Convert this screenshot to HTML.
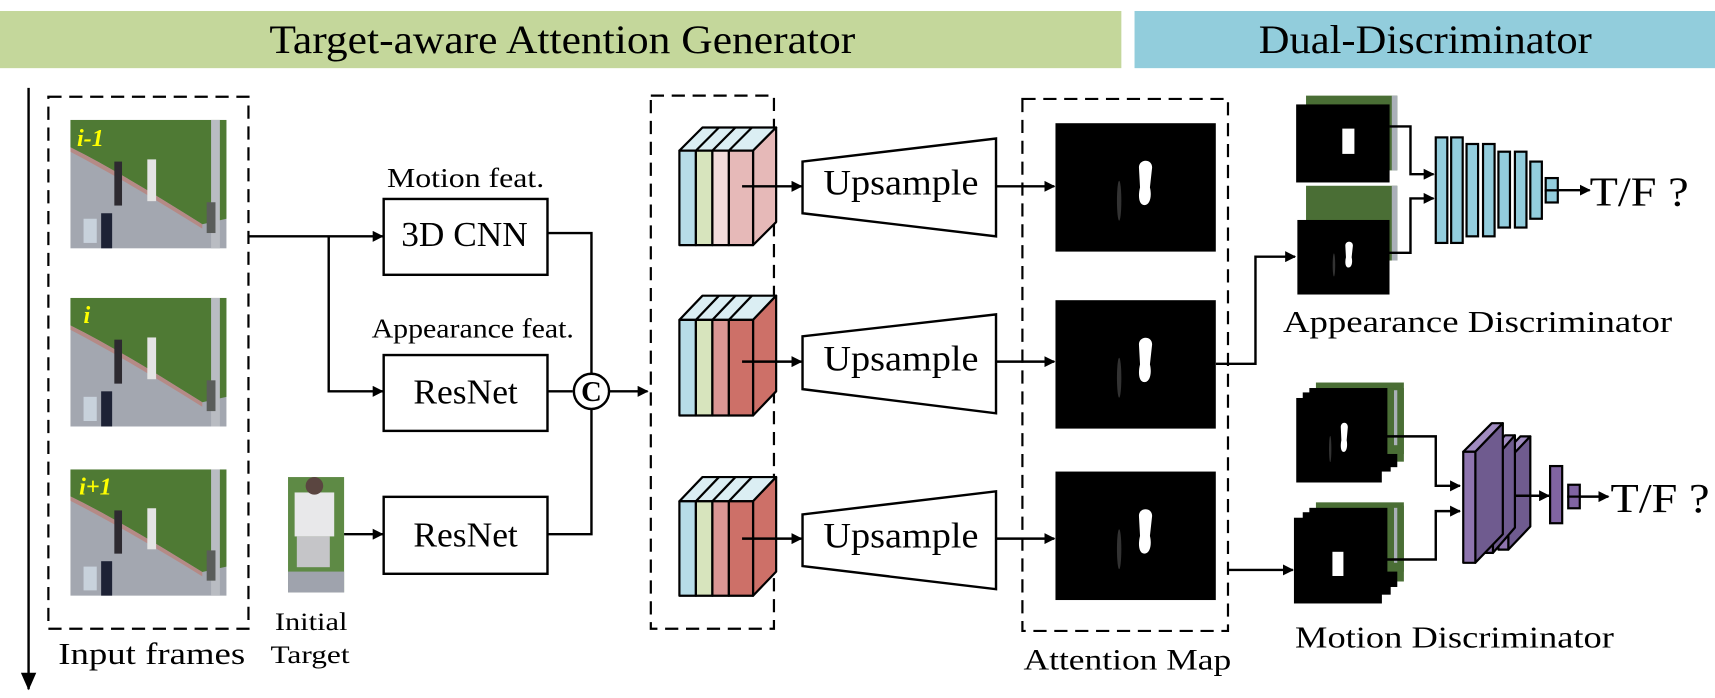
<!DOCTYPE html>
<html><head><meta charset="utf-8"><style>
html,body{margin:0;padding:0;background:#fff;}
svg{display:block;}
text{font-family:"Liberation Serif",serif;fill:#000;}
</style></head><body>
<svg width="1715" height="698" viewBox="0 0 1560 635" preserveAspectRatio="none" xmlns="http://www.w3.org/2000/svg">
<defs>
<marker id="ah" markerWidth="10" markerHeight="10" refX="9" refY="5" orient="auto" markerUnits="userSpaceOnUse">
<path d="M0,0 L10,5 L0,10 Z" fill="#000"/></marker>
<marker id="ah2" markerWidth="16" markerHeight="14" refX="15" refY="7" orient="auto" markerUnits="userSpaceOnUse">
<path d="M0,0 L16,7 L0,14 Z" fill="#000"/></marker>
<symbol id="scene" viewBox="0 0 142 117" preserveAspectRatio="none">
<rect width="142" height="117" fill="#a3a7b0"/>
<path d="M0,0 L142,0 L142,90 L120,95 C80,70 40,45 0,25 Z" fill="#4f7a34"/>
<path d="M0,25 C40,45 80,70 120,95 L120,99 C80,74 40,50 0,29 Z" fill="#b58a86"/>
<rect x="128" y="0" width="8" height="117" fill="#b9bcc2"/>
<rect x="124" y="75" width="8" height="28" fill="#5a5d5a"/>
<rect x="40" y="38" width="7" height="40" fill="#2d2a30"/>
<rect x="70" y="36" width="8" height="38" fill="#e4e4e4"/>
<rect x="28" y="85" width="10" height="32" fill="#1d2235"/>
<rect x="12" y="90" width="12" height="22" fill="#c8d2dc"/>
</symbol>
<symbol id="att" viewBox="0 0 146 116" preserveAspectRatio="none">
<rect width="146" height="116" fill="#000"/>
<ellipse cx="58" cy="70" rx="2" ry="18" fill="#333"/>
<path d="M76,40 C76,32 88,32 88,40 L86,58 C88,66 86,74 81,74 C76,74 75,66 77,58 Z" fill="#fff"/>
</symbol>
</defs>

<rect x="0" y="10" width="1020" height="52" fill="#c4d79b"/>
<rect x="1032" y="10" width="528" height="52" fill="#92cddc"/>
<text x="245" y="48" font-size="37" textLength="533" lengthAdjust="spacingAndGlyphs">Target-aware Attention Generator</text>
<text x="1145" y="48" font-size="37" textLength="303" lengthAdjust="spacingAndGlyphs">Dual-Discriminator</text>

<line x1="26" y1="80" x2="26" y2="627" stroke="#000" stroke-width="2.2" marker-end="url(#ah2)"/>

<rect x="44" y="88" width="182" height="484" fill="none" stroke="#000" stroke-width="2" stroke-dasharray="12,7"/>
<use href="#scene" x="64" y="109" width="142" height="117"/>
<use href="#scene" x="64" y="271" width="142" height="117"/>
<use href="#scene" x="64" y="427" width="142" height="115"/>
<text x="70" y="133" font-size="22" font-style="italic" font-weight="bold" style="fill:#ffff00">i-1</text>
<text x="76" y="294" font-size="22" font-style="italic" font-weight="bold" style="fill:#ffff00">i</text>
<text x="72" y="450" font-size="22" font-style="italic" font-weight="bold" style="fill:#ffff00">i+1</text>
<text x="53" y="604" font-size="28" textLength="170" lengthAdjust="spacingAndGlyphs">Input frames</text>

<rect x="262" y="434" width="51" height="105" fill="#5e8a45"/>
<rect x="268" y="448" width="36" height="40" fill="#e8e8ea"/>
<rect x="270" y="488" width="30" height="28" fill="#c5c5c8"/>
<ellipse cx="286" cy="442" rx="8" ry="8" fill="#5a4540"/>
<rect x="262" y="520" width="51" height="19" fill="#9fa3ad"/>
<text x="250" y="573" font-size="23" textLength="66" lengthAdjust="spacingAndGlyphs">Initial</text>
<text x="246" y="603" font-size="23" textLength="72" lengthAdjust="spacingAndGlyphs">Target</text>

<g stroke="#000" stroke-width="2.2" fill="none">
<line x1="226" y1="215" x2="348" y2="215" marker-end="url(#ah)"/>
<polyline points="299,215 299,356 348,356" marker-end="url(#ah)"/>
<line x1="313" y1="486" x2="348" y2="486" marker-end="url(#ah)"/>
<polyline points="498,212 538,212 538,340"/>
<line x1="498" y1="356" x2="521" y2="356"/>
<polyline points="498,486 538,486 538,373"/>
<line x1="554" y1="356" x2="589" y2="356" marker-end="url(#ah)"/>
</g>
<g fill="#fff" stroke="#000" stroke-width="2.2">
<rect x="349" y="181" width="149" height="69"/>
<rect x="349" y="323" width="149" height="69"/>
<rect x="349" y="452" width="149" height="70"/>
<circle cx="538" cy="356" r="16"/>
</g>
<text x="538" y="365" font-size="26" font-weight="bold" text-anchor="middle">C</text>
<text x="352" y="170" font-size="25" textLength="143" lengthAdjust="spacingAndGlyphs">Motion feat.</text>
<text x="338" y="307" font-size="25" textLength="184" lengthAdjust="spacingAndGlyphs">Appearance feat.</text>
<text x="365" y="224" font-size="32" textLength="115" lengthAdjust="spacingAndGlyphs">3D CNN</text>
<text x="376" y="367" font-size="32" textLength="95" lengthAdjust="spacingAndGlyphs">ResNet</text>
<text x="376" y="497" font-size="32" textLength="95" lengthAdjust="spacingAndGlyphs">ResNet</text>

<rect x="592" y="87" width="112" height="485" fill="none" stroke="#000" stroke-width="2" stroke-dasharray="12,7"/>
<g stroke="#000" stroke-width="2" stroke-linejoin="round">
<g>
<polygon points="618,137 639,116 706,116 685,137" fill="#dbeef3"/>
<polygon points="685,137 706,116 706,202 685,223" fill="#e6b9b8"/>
<rect x="618" y="137" width="15" height="86" fill="#b7dde8"/>
<rect x="633" y="137" width="15" height="86" fill="#d7e4bd"/>
<rect x="648" y="137" width="15" height="86" fill="#f2dcdb"/>
<rect x="663" y="137" width="22" height="86" fill="#e6b9b8"/>
<line x1="633" y1="137" x2="654" y2="116"/><line x1="648" y1="137" x2="669" y2="116"/><line x1="663" y1="137" x2="684" y2="116"/>
</g>
<g>
<polygon points="618,291 639,269 706,269 685,291" fill="#dbeef3"/>
<polygon points="685,291 706,269 706,356 685,378" fill="#cd7068"/>
<rect x="618" y="291" width="15" height="87" fill="#b7dde8"/>
<rect x="633" y="291" width="15" height="87" fill="#d7e4bd"/>
<rect x="648" y="291" width="15" height="87" fill="#da9694"/>
<rect x="663" y="291" width="22" height="87" fill="#cd7068"/>
<line x1="633" y1="291" x2="654" y2="269"/><line x1="648" y1="291" x2="669" y2="269"/><line x1="663" y1="291" x2="684" y2="269"/>
</g>
<g>
<polygon points="618,456 639,434 706,434 685,456" fill="#dbeef3"/>
<polygon points="685,456 706,434 706,520 685,542" fill="#cd7068"/>
<rect x="618" y="456" width="15" height="86" fill="#b7dde8"/>
<rect x="633" y="456" width="15" height="86" fill="#d7e4bd"/>
<rect x="648" y="456" width="15" height="86" fill="#da9694"/>
<rect x="663" y="456" width="22" height="86" fill="#cd7068"/>
<line x1="633" y1="456" x2="654" y2="434"/><line x1="648" y1="456" x2="669" y2="434"/><line x1="663" y1="456" x2="684" y2="434"/>
</g>
</g>

<g stroke="#000" stroke-width="2.2" fill="none">
<line x1="675" y1="169.5" x2="729" y2="169.5" marker-end="url(#ah)"/>
<line x1="675" y1="329" x2="729" y2="329" marker-end="url(#ah)"/>
<line x1="675" y1="490" x2="729" y2="490" marker-end="url(#ah)"/>
<polygon points="730,147 906,126 906,215 730,194" fill="#fff"/>
<polygon points="730,306 906,286 906,376 730,354" fill="#fff"/>
<polygon points="730,468 906,447 906,536 730,515" fill="#fff"/>
<line x1="906" y1="169.5" x2="959" y2="169.5" marker-end="url(#ah)"/>
<line x1="906" y1="329" x2="959" y2="329" marker-end="url(#ah)"/>
<line x1="906" y1="490" x2="959" y2="490" marker-end="url(#ah)"/>
</g>
<text x="749" y="177" font-size="33" textLength="141" lengthAdjust="spacingAndGlyphs">Upsample</text>
<text x="749" y="337" font-size="33" textLength="141" lengthAdjust="spacingAndGlyphs">Upsample</text>
<text x="749" y="498" font-size="33" textLength="141" lengthAdjust="spacingAndGlyphs">Upsample</text>

<rect x="930" y="90" width="187" height="484" fill="none" stroke="#000" stroke-width="2" stroke-dasharray="12,7"/>
<use href="#att" x="960" y="112" width="146" height="117"/>
<use href="#att" x="960" y="273" width="146" height="117"/>
<use href="#att" x="960" y="429" width="146" height="117"/>
<text x="931" y="609" font-size="27" textLength="189" lengthAdjust="spacingAndGlyphs">Attention Map</text>

<rect x="1188" y="87" width="83" height="68" fill="#4a6e35"/>
<rect x="1266" y="87" width="5" height="68" fill="#aab0b8"/>
<rect x="1179" y="95" width="85" height="71" fill="#000"/>
<rect x="1221" y="117" width="11" height="23" fill="#fff"/>
<rect x="1188" y="169" width="83" height="68" fill="#4a6e35"/>
<rect x="1266" y="169" width="5" height="68" fill="#aab0b8"/>
<use href="#att" x="1180" y="200" width="84" height="68"/>
<g stroke="#000" stroke-width="2.2" fill="none">
<polyline points="1264,115 1283,115 1283,158.5 1304,158.5" marker-end="url(#ah)"/>
<polyline points="1263,230 1283,230 1283,180.5 1304,180.5" marker-end="url(#ah)"/>
<polyline points="1106,331 1142,331 1142,233.5 1178,233.5" marker-end="url(#ah)"/>
</g>
<g fill="#93cddd" stroke="#000" stroke-width="2">
<rect x="1306" y="125" width="10.5" height="96"/>
<rect x="1320" y="125" width="10.5" height="96"/>
<rect x="1334" y="131" width="10.5" height="84"/>
<rect x="1349" y="131" width="10.5" height="84"/>
<rect x="1363" y="138" width="10.5" height="69"/>
<rect x="1378" y="138" width="10.5" height="69"/>
<rect x="1392" y="147" width="10.5" height="52"/>
<rect x="1406" y="162" width="11" height="11.2"/>
<rect x="1406" y="173.2" width="11" height="11"/>
</g>
<line x1="1418" y1="173" x2="1446" y2="173" stroke="#000" stroke-width="2.2" marker-end="url(#ah)"/>
<text x="1446" y="187" font-size="38" textLength="90" lengthAdjust="spacingAndGlyphs">T/F ?</text>
<text x="1167" y="302" font-size="28" textLength="354" lengthAdjust="spacingAndGlyphs">Appearance Discriminator</text>

<g>
<rect x="1197" y="348" width="80" height="72" fill="#4a6e35"/>
<rect x="1191" y="353" width="80" height="72" fill="#000"/>
<rect x="1185" y="357" width="80" height="72" fill="#000"/>
<rect x="1262" y="353" width="15" height="60" fill="#4a6e35"/>
<rect x="1268" y="355" width="3" height="50" fill="#aab0b8"/>
<use href="#att" x="1179" y="362" width="78" height="77"/>
</g>
<g>
<rect x="1197" y="457" width="80" height="72" fill="#4a6e35"/>
<rect x="1191" y="462" width="80" height="72" fill="#000"/>
<rect x="1185" y="466" width="80" height="75" fill="#000"/>
<rect x="1262" y="460" width="15" height="60" fill="#4a6e35"/>
<rect x="1268" y="462" width="3" height="50" fill="#aab0b8"/>
<rect x="1177" y="471" width="80" height="78" fill="#000"/>
<rect x="1212" y="502" width="10" height="22" fill="#fff"/>
</g>
<g stroke="#000" stroke-width="2.2" fill="none">
<polyline points="1257,397 1306,397 1306,442 1328,442" marker-end="url(#ah)"/>
<polyline points="1257,509 1306,509 1306,465 1328,465" marker-end="url(#ah)"/>
<polyline points="1117,518.5 1176,518.5" marker-end="url(#ah)"/>
</g>
<g stroke="#000" stroke-width="2" stroke-linejoin="round">
<polygon points="1363,418 1383,397 1392,397 1372,418" fill="#a08bc0"/>
<polygon points="1372,418 1392,397 1392,479 1372,500" fill="#6f5b8f"/>
<rect x="1363" y="418" width="9" height="82" fill="#8e74ae"/>
<polygon points="1349,419 1369,396 1378,396 1358,419" fill="#a08bc0"/>
<polygon points="1358,419 1378,396 1378,480 1358,503" fill="#6f5b8f"/>
<rect x="1349" y="419" width="9" height="84" fill="#8e74ae"/>
<polygon points="1331,411 1357,385 1367,385 1342,411" fill="#a08bc0"/>
<polygon points="1342,411 1367,385 1367,486 1342,512" fill="#6f5b8f"/>
<rect x="1331" y="411" width="11" height="101" fill="#8e74ae"/>
</g>
<line x1="1378" y1="451" x2="1409" y2="451" stroke="#000" stroke-width="2.2" marker-end="url(#ah)"/>
<g fill="#8064a2" stroke="#000" stroke-width="2">
<rect x="1410" y="424" width="11" height="52"/>
<rect x="1426.5" y="441" width="10.5" height="10.8"/>
<rect x="1426.5" y="451.8" width="10.5" height="10.6"/>
</g>
<line x1="1437" y1="451.8" x2="1463" y2="451.8" stroke="#000" stroke-width="2.2" marker-end="url(#ah)"/>
<text x="1465" y="466" font-size="38" textLength="90" lengthAdjust="spacingAndGlyphs">T/F ?</text>
<text x="1178" y="589" font-size="28" textLength="290" lengthAdjust="spacingAndGlyphs">Motion Discriminator</text>
</svg>
</body></html>
